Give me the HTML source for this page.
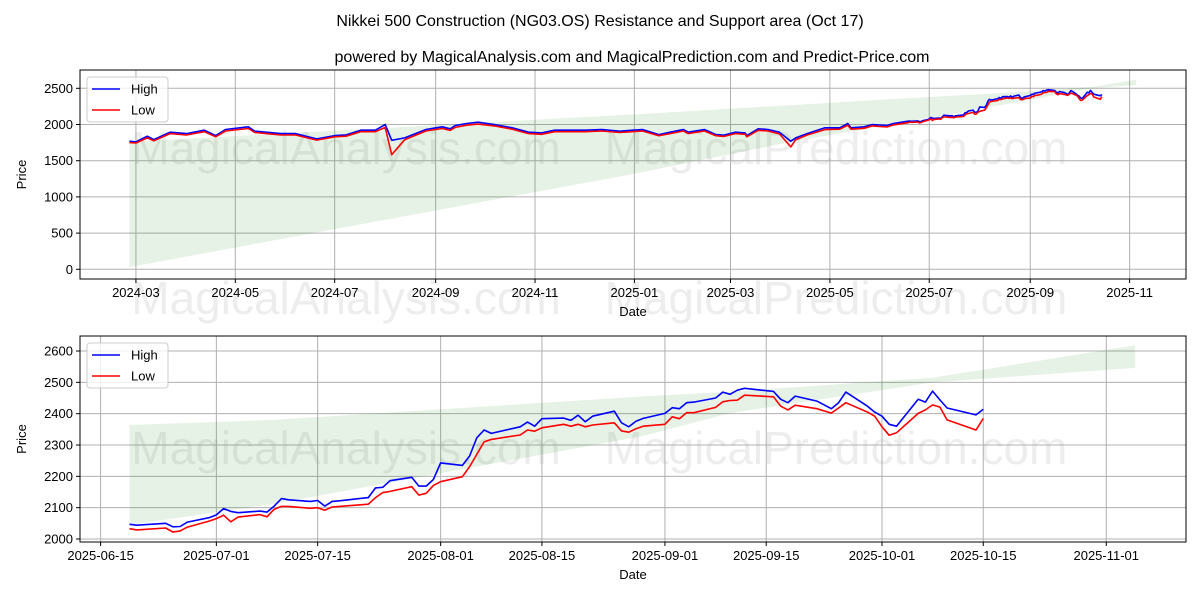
<!DOCTYPE html>
<html><head><meta charset="utf-8"><style>
body{margin:0;background:#fff;}
svg{display:block;font-family:"Liberation Sans","DejaVu Sans",sans-serif;}
</style></head><body>
<svg id="chart" width="1200" height="600" viewBox="0 0 1200 600">
<rect width="1200" height="600" fill="#fff"/>
<text x="600" y="26" text-anchor="middle" font-size="16" fill="#000">Nikkei 500 Construction (NG03.OS) Resistance and Support area (Oct 17)</text>
<text x="632" y="62" text-anchor="middle" font-size="16" fill="#000">powered by MagicalAnalysis.com and MagicalPrediction.com and Predict-Price.com</text>
<text x="346" y="314" text-anchor="middle" font-size="46" fill="rgba(0,0,0,0.07)">MagicalAnalysis.com</text>
<text x="836" y="314" text-anchor="middle" font-size="46" fill="rgba(0,0,0,0.07)">MagicalPrediction.com</text>
</svg>
<script>
// ---------- data ----------
const topDates = ['2024-02-26','2024-03-01','2024-03-08','2024-03-12','2024-03-22','2024-04-01','2024-04-12','2024-04-19','2024-04-25','2024-05-09','2024-05-13','2024-05-20','2024-05-29','2024-06-07','2024-06-20','2024-07-01','2024-07-08','2024-07-17','2024-07-26','2024-08-01','2024-08-05','2024-08-13','2024-08-26','2024-09-05','2024-09-10','2024-09-13','2024-09-20','2024-09-27','2024-10-07','2024-10-18','2024-10-28','2024-11-05','2024-11-13','2024-12-02','2024-12-12','2024-12-23','2025-01-06','2025-01-16','2025-01-23','2025-01-31','2025-02-03','2025-02-13','2025-02-20','2025-02-25','2025-03-04','2025-03-10','2025-03-11','2025-03-18','2025-03-24','2025-03-31','2025-04-07','2025-04-10','2025-04-17','2025-04-28','2025-05-07','2025-05-12','2025-05-14','2025-05-22','2025-05-27','2025-06-05','2025-06-09','2025-06-18'];
const topHigh = [1769,1760,1838,1792,1894,1875,1921,1847,1931,1968,1907,1894,1875,1875,1801,1847,1856,1921,1921,2000,1782,1815,1931,1968,1940,1986,2014,2032,2000,1954,1894,1884,1921,1921,1931,1907,1931,1861,1894,1931,1894,1931,1861,1852,1894,1884,1847,1940,1931,1894,1769,1815,1875,1954,1954,2014,1954,1968,2000,1986,2014,2046];
const topLow = [1750,1745,1815,1775,1875,1855,1900,1830,1910,1945,1890,1875,1855,1855,1785,1830,1838,1900,1900,1960,1583,1790,1910,1945,1920,1960,1990,2005,1980,1935,1875,1865,1900,1900,1910,1890,1910,1845,1875,1910,1875,1910,1845,1835,1875,1865,1830,1920,1910,1870,1690,1790,1855,1930,1935,1990,1935,1948,1980,1965,1995,2025];
const recentDates = ['2025-06-19','2025-06-20','2025-06-24','2025-06-25','2025-06-26','2025-06-27','2025-06-30','2025-07-01','2025-07-02','2025-07-03','2025-07-04','2025-07-07','2025-07-08','2025-07-09','2025-07-10','2025-07-11','2025-07-14','2025-07-15','2025-07-16','2025-07-17','2025-07-18','2025-07-22','2025-07-23','2025-07-24','2025-07-25','2025-07-28','2025-07-29','2025-07-30','2025-07-31','2025-08-01','2025-08-04','2025-08-05','2025-08-06','2025-08-07','2025-08-08','2025-08-12','2025-08-13','2025-08-14','2025-08-15','2025-08-18','2025-08-19','2025-08-20','2025-08-21','2025-08-22','2025-08-25','2025-08-26','2025-08-27','2025-08-28','2025-08-29','2025-09-01','2025-09-02','2025-09-03','2025-09-04','2025-09-05','2025-09-08','2025-09-09','2025-09-10','2025-09-11','2025-09-12','2025-09-16','2025-09-17','2025-09-18','2025-09-19','2025-09-22','2025-09-24','2025-09-25','2025-09-26','2025-09-29','2025-09-30','2025-10-01','2025-10-02','2025-10-03','2025-10-06','2025-10-07','2025-10-08','2025-10-09','2025-10-10','2025-10-14','2025-10-15'];
const recentHigh = [2047,2044,2050,2039,2040,2054,2068,2077,2097,2088,2084,2089,2086,2105,2129,2125,2120,2123,2105,2120,2122,2132,2163,2165,2186,2197,2169,2169,2190,2243,2235,2265,2323,2348,2337,2358,2373,2360,2384,2386,2379,2395,2374,2392,2408,2371,2358,2376,2385,2401,2419,2416,2435,2437,2450,2469,2462,2475,2481,2471,2446,2435,2456,2440,2416,2435,2469,2424,2405,2392,2366,2360,2446,2437,2472,2444,2418,2396,2414];
const recentLow = [2033,2029,2035,2022,2026,2038,2057,2065,2076,2055,2070,2078,2071,2095,2104,2104,2098,2100,2092,2102,2104,2111,2132,2148,2152,2167,2140,2146,2171,2183,2199,2231,2270,2310,2318,2332,2348,2344,2355,2366,2360,2366,2358,2364,2371,2345,2341,2352,2360,2366,2390,2384,2403,2403,2420,2438,2442,2443,2459,2454,2424,2412,2427,2416,2402,2418,2435,2405,2392,2358,2331,2339,2401,2412,2428,2421,2380,2348,2385];
const topBandUpperDates = ['2024-02-26','2025-01-01','2025-06-19','2025-08-29','2025-10-08','2025-11-05'];
const topBandUpper = [1760,2140,2364,2455,2515,2618];
const topBandLowerDates = ['2024-02-26','2025-01-01','2025-04-07','2025-06-19','2025-08-29','2025-10-08','2025-11-05'];
const topBandLower = [30,1320,1760,2045,2329,2500,2546];
const botBandDates = ['2025-06-19','2025-07-09','2025-08-29','2025-09-10','2025-10-08','2025-11-05'];
const botBandUpper = [2364,2380,2455,2470,2515,2618];
const botBandLower = [2045,2112,2329,2402,2500,2546];
const topXTicks = ['2024-03','2024-05','2024-07','2024-09','2024-11','2025-01','2025-03','2025-05','2025-07','2025-09','2025-11'];
const topYTicks = [0,500,1000,1500,2000,2500];
const botXTicks = ['2025-06-15','2025-07-01','2025-07-15','2025-08-01','2025-08-15','2025-09-01','2025-09-15','2025-10-01','2025-10-15','2025-11-01'];
const botYTicks = [2000,2100,2200,2300,2400,2500,2600];

// ---------- helpers ----------
const NS='http://www.w3.org/2000/svg';
const svg=document.getElementById('chart');
function mk(tag,attrs,parent){const e=document.createElementNS(NS,tag);for(const k in attrs)e.setAttribute(k,attrs[k]);(parent||svg).appendChild(e);return e;}
function dnum(s){const p=s.split('-').map(Number);return Date.UTC(p[0],p[1]-1,p[2]||1)/86400000;}

function panel(cfg){
  const {L,R,T,B,xd0,xp0,pxPerDay,y0v,y0p,pxPerUnit,name,wmBase}=cfg;
  const X=d=>xp0+(dnum(d)-dnum(xd0))*pxPerDay;
  const Y=v=>y0p-(v-y0v)*pxPerUnit;
  const g=mk('g',{});
  
  
  const clipId=name+'-clip';
  const cp=mk('clipPath',{id:clipId},g);mk('rect',{x:L,y:T,width:R-L,height:B-T},cp);
  // watermark
  [['MagicalAnalysis.com',346],['MagicalPrediction.com',836]].forEach(([t,x])=>{
    const w=mk('text',{x:x,y:wmBase,'text-anchor':'middle','font-size':46,fill:'rgba(0,0,0,0.07)'},g);
    
    
    w.textContent=t;});
  // grid
  cfg.xt.forEach(t=>{const x=X(t);
    const gl=mk('line',{x1:x,x2:x,y1:T,y2:B,stroke:'#b0b0b0','stroke-width':1},g);
    
    
    mk('line',{x1:x,x2:x,y1:B,y2:B+4,stroke:'#000'},g);
    const tl=mk('text',{x:x,y:B+18,'text-anchor':'middle','font-size':13,fill:'#000'},g);
    
    
    tl.textContent=t;});
  cfg.yt.forEach(v=>{const y=Y(v);
    const gl=mk('line',{x1:L,x2:R,y1:y,y2:y,stroke:'#b0b0b0','stroke-width':1},g);
    
    
    mk('line',{x1:L-4,x2:L,y1:y,y2:y,stroke:'#000'},g);
    const tl=mk('text',{x:L-7,y:y+4.5,'text-anchor':'end','font-size':13,fill:'#000'},g);
    
    
    tl.textContent=v;});
  // band
  const up=cfg.bu.map((d,i)=>X(d).toFixed(1)+','+Y(cfg.buv[i]).toFixed(1));
  const lo=cfg.bl.map((d,i)=>X(d).toFixed(1)+','+Y(cfg.blv[i]).toFixed(1)).reverse();
  const band=mk('polygon',{points:up.concat(lo).join(' '),fill:'rgba(0,128,0,0.1)','clip-path':'url(#'+clipId+')'},g);
  
  
  // series
  [['high-line',cfg.hi,'#0000ff'],['low-line',cfg.lo,'#ff0000']].forEach(([n,vals,c])=>{
    const pts=cfg.dates.map((d,i)=>X(d).toFixed(1)+','+Y(vals[i]).toFixed(1)).join(' ');
    const pl=mk('polyline',{points:pts,fill:'none',stroke:c,'stroke-width':1.6,'stroke-linejoin':'round','clip-path':'url(#'+clipId+')'},g);
    
    
  });
  // frame
  const fr=mk('rect',{x:L,y:T,width:R-L,height:B-T,fill:'none',stroke:'#000','stroke-width':1},g);
  
  
  // axis titles
  const xl=mk('text',{x:(L+R)/2,y:B+37,'text-anchor':'middle','font-size':13,fill:'#000'},g);
  
  
  xl.textContent='Date';
  const yl=mk('text',{x:0,y:0,'text-anchor':'middle','font-size':13,fill:'#000',transform:'translate(26,'+((T+B)/2)+') rotate(-90)'},g);
  
  
  yl.textContent='Price';
  // legend
  const lg=mk('g',{},g);
  
  
  mk('rect',{x:L+7,y:T+7,width:81,height:45,rx:3,fill:'rgba(255,255,255,0.8)',stroke:'#ccc'},lg);
  [['High','#0000ff',T+19],['Low','#ff0000',T+40]].forEach(([t,c,y])=>{
    const e=mk('g',{},lg);
    
    
    mk('line',{x1:L+12,x2:L+40,y1:y,y2:y,stroke:c,'stroke-width':1.6},e);
    const tx=mk('text',{x:L+51,y:y+4.5,'font-size':13,fill:'#000'},e);
    tx.textContent=t;});
}

const allDates=topDates.concat(recentDates), allHigh=topHigh.concat(recentHigh), allLow=topLow.concat(recentLow);
panel({name:'top-panel',L:80,R:1186,T:70,B:279,xd0:'2025-01-01',xp0:634.4,pxPerDay:1.629,y0v:0,y0p:269.3,pxPerUnit:0.0724,wmBase:164,
  xt:topXTicks,yt:topYTicks,dates:allDates,hi:allHigh,lo:allLow,bu:topBandUpperDates,buv:topBandUpper,bl:topBandLowerDates,blv:topBandLower});
panel({name:'bottom-panel',L:80,R:1186,T:336,B:542,xd0:'2025-06-15',xp0:100.6,pxPerDay:7.235,y0v:2000,y0p:539,pxPerUnit:0.3133,wmBase:464,
  xt:botXTicks,yt:botYTicks,dates:recentDates,hi:recentHigh,lo:recentLow,bu:botBandDates,buv:botBandUpper,bl:botBandDates,blv:botBandLower});
</script>
</body></html>
